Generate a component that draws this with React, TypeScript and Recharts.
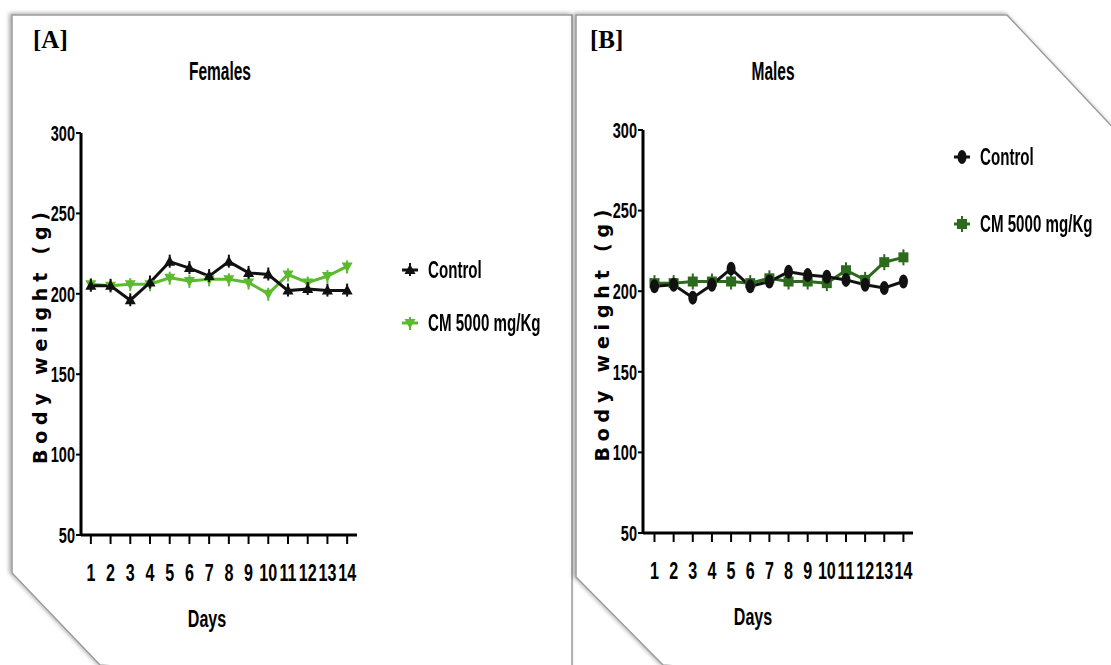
import React from "react";
import { LineChart, Line, XAxis, YAxis, Legend, Label } from "recharts";

// ---- data ----
const days = [1, 2, 3, 4, 5, 6, 7, 8, 9, 10, 11, 12, 13, 14];
const weightTicks = [50, 100, 150, 200, 250, 300];

const femaleControl = [205, 205, 196, 207, 220, 216, 211, 220, 213, 212, 202, 203, 202, 202];
const femaleCM = [206, 205, 206, 206, 210, 208, 209, 209, 207, 200, 212, 207, 211, 217];

const maleControl = [203, 204, 196, 204, 214, 203, 206, 212, 210, 209, 207, 204, 202, 206];
const maleCM = [205, 205, 206, 206, 206, 205, 208, 206, 206, 205, 213, 207, 218, 221];

const seriesNames = ["Control", "CM 5000 mg/Kg"];

const femaleRows = days.map((d, i) => ({ day: d, control: femaleControl[i], cm: femaleCM[i] }));
const maleRows = days.map((d, i) => ({ day: d, control: maleControl[i], cm: maleCM[i] }));

// no condensed face installed, so Liberation Sans bold squeezed horizontally
const SANS = "'Liberation Sans', Arial, sans-serif";
const BLACK = "#111";
const LIGHT_GREEN = "#5cba2e";
const DARK_GREEN = "#2e6a1e";

type MarkerKind = "triUp" | "triDown" | "oval" | "square";

function Marker({ kind, cx, cy, color }: { kind: MarkerKind; cx: number; cy: number; color: string }) {
  if (kind === "triUp") {
    return (
      <g>
        <line x1={cx} x2={cx} y1={cy - 7} y2={cy + 6} stroke={color} strokeWidth={2} />
        <path d={`M${cx},${cy - 6} L${cx + 5.5},${cy + 4} L${cx - 5.5},${cy + 4} Z`} fill={color} />
      </g>
    );
  }
  if (kind === "triDown") {
    return (
      <g>
        <line x1={cx} x2={cx} y1={cy - 6} y2={cy + 7} stroke={color} strokeWidth={2} />
        <path d={`M${cx},${cy + 6} L${cx + 5.5},${cy - 4} L${cx - 5.5},${cy - 4} Z`} fill={color} />
      </g>
    );
  }
  if (kind === "oval") {
    return <ellipse cx={cx} cy={cy} rx={4.5} ry={7} fill={color} />;
  }
  return (
    <g>
      <line x1={cx} x2={cx} y1={cy - 8} y2={cy + 8} stroke={color} strokeWidth={2} />
      <rect x={cx - 5} y={cy - 5} width={10} height={10} fill={color} />
    </g>
  );
}

function makeDot(kind: MarkerKind, color: string) {
  return (p: any) => <Marker key={`d-${p.index}`} kind={kind} cx={p.cx} cy={p.cy} color={color} />;
}

// svg text squeezed horizontally around its anchor
function NarrowText({
  x,
  y,
  size,
  sx,
  anchor = "middle",
  dy = "0.35em",
  children,
}: {
  x: number;
  y: number;
  size: number;
  sx: number;
  anchor?: "start" | "middle" | "end";
  dy?: string;
  children: React.ReactNode;
}) {
  return (
    <text
      transform={`translate(${x},${y}) scale(${sx},1)`}
      textAnchor={anchor}
      dy={dy}
      fontFamily={SANS}
      fontWeight={700}
      fontSize={size}
      fill="#000"
    >
      {children}
    </text>
  );
}

const xTick = (p: any) => (
  <NarrowText key={`x-${p.index}`} x={p.x} y={p.y} size={23} sx={0.7} dy="0.72em">
    {p.payload.value}
  </NarrowText>
);

const yTick = (p: any) => (
  <NarrowText key={`y-${p.index}`} x={p.x} y={p.y} size={22} sx={0.66} anchor="end">
    {p.payload.value}
  </NarrowText>
);

// legend: short line with the marker on it, then the name
function LegendBox({
  items,
  gap,
}: {
  items: { name: string; kind: MarkerKind; color: string }[];
  gap: number;
}) {
  return (
    <div>
      {items.map((it, i) => (
        <div
          key={it.name}
          style={{ display: "flex", alignItems: "center", height: 30, marginBottom: i === 0 ? gap - 30 : 0 }}
        >
          <svg width={22} height={30} style={{ flexShrink: 0 }}>
            <line x1={3} x2={19} y1={15} y2={15} stroke={it.color} strokeWidth={3} />
            <Marker kind={it.kind} cx={11} cy={15} color={it.color} />
          </svg>
          <span
            style={{
              marginLeft: 7,
              fontFamily: SANS,
              fontWeight: 700,
              fontSize: 24,
              color: "#000",
              whiteSpace: "nowrap",
              display: "inline-block",
              flexShrink: 0,
              transform: "scaleX(0.63)",
              transformOrigin: "left center",
            }}
          >
            {it.name}
          </span>
        </div>
      ))}
    </div>
  );
}

function Panel({
  rows,
  left,
  width,
  margin,
  xDomain,
  daysDx,
  kinds,
  colors,
  legendPos,
  legendGap,
}: {
  rows: any[];
  left: number;
  width: number;
  margin: { top: number; right: number; bottom: number; left: number };
  xDomain: [number, number];
  daysDx: number;
  kinds: [MarkerKind, MarkerKind];
  colors: [string, string];
  legendPos: { left: number; top: number };
  legendGap: number;
}) {
  return (
    <div style={{ position: "absolute", left, top: 0, width, height: 665 }}>
      <LineChart width={width} height={665} data={rows} margin={margin}>
        <XAxis
          dataKey="day"
          type="number"
          domain={xDomain}
          ticks={days}
          interval={0}
          height={40}
          axisLine={{ stroke: "#000", strokeWidth: 3 }}
          tickLine={{ stroke: "#000", strokeWidth: 2 }}
          tickSize={9}
          tickMargin={20}
          tick={xTick}
        >
          <Label
            content={(p: any) => {
              const vb = p.viewBox || {};
              return (
                <NarrowText x={vb.x + vb.width / 2 + daysDx} y={vb.y + 84} size={24} sx={0.67}>
                  Days
                </NarrowText>
              );
            }}
          />
        </XAxis>
        <YAxis
          type="number"
          domain={[50, 300]}
          ticks={weightTicks}
          interval={0}
          width={45}
          axisLine={{ stroke: "#000", strokeWidth: 3 }}
          tickLine={{ stroke: "#000", strokeWidth: 2 }}
          tickSize={5}
          tickMargin={1}
          tick={yTick}
        >
          <Label
            content={(p: any) => {
              const vb = p.viewBox || {};
              const cx = vb.x + 4;
              const cy = vb.y + vb.height / 2 + 4;
              return (
                <text
                  x={cx}
                  y={cy}
                  transform={`rotate(-90 ${cx} ${cy})`}
                  textAnchor="middle"
                  dominantBaseline="central"
                  fontFamily="'DejaVu Sans', sans-serif"
                  fontWeight={700}
                  fontSize={19}
                  textLength={252}
                  lengthAdjust="spacing"
                  fill="#000"
                >
                  Body weight (g)
                </text>
              );
            }}
          />
        </YAxis>
        <Legend
          layout="vertical"
          align="center"
          verticalAlign="middle"
          wrapperStyle={{ left: legendPos.left, top: legendPos.top, width: 320 }}
          content={() => (
            <LegendBox
              gap={legendGap}
              items={[
                { name: seriesNames[0], kind: kinds[0], color: colors[0] },
                { name: seriesNames[1], kind: kinds[1], color: colors[1] },
              ]}
            />
          )}
        />
        <Line
          dataKey="cm"
          name={seriesNames[1]}
          stroke={colors[1]}
          strokeWidth={3}
          dot={makeDot(kinds[1], colors[1])}
          activeDot={false}
          isAnimationActive={false}
        />
        <Line
          dataKey="control"
          name={seriesNames[0]}
          stroke={colors[0]}
          strokeWidth={3}
          dot={makeDot(kinds[0], colors[0])}
          activeDot={false}
          isAnimationActive={false}
        />
      </LineChart>
    </div>
  );
}

// the two "paper" cards with cut corners, plus tags and titles
function Frames() {
  return (
    <svg width={1111} height={665} style={{ position: "absolute", left: 0, top: 0 }}>
      <defs>
        <filter id="paperShadow" x="-10%" y="-10%" width="120%" height="120%">
          <feDropShadow dx="-2" dy="-1" stdDeviation="2" floodColor="#000" floodOpacity="0.35" />
        </filter>
      </defs>
      <polygon
        points="12,15 572,15 572,700 100,665 12,573"
        fill="#fff"
        stroke="#9a9a9a"
        strokeWidth={1.5}
        filter="url(#paperShadow)"
      />
      <polygon
        points="576,15 1007,15 1120,135 1120,700 663,665 576,577"
        fill="#fff"
        stroke="#9a9a9a"
        strokeWidth={1.5}
        filter="url(#paperShadow)"
      />
      <text x={33} y={48} fontFamily="'Liberation Serif', serif" fontWeight={700} fontSize={25} fill="#000">
        [A]
      </text>
      <text x={590} y={48} fontFamily="'Liberation Serif', serif" fontWeight={700} fontSize={25} fill="#000">
        [B]
      </text>
      <NarrowText x={220} y={71} size={25} sx={0.62}>
        Females
      </NarrowText>
      <NarrowText x={773} y={71} size={25} sx={0.62}>
        Males
      </NarrowText>
    </svg>
  );
}

export default function App() {
  return (
    <div
      style={{
        position: "absolute",
        left: 0,
        top: 0,
        width: 1111,
        height: 665,
        background: "#fff",
        overflow: "hidden",
      }}
    >
      <Frames />
      <Panel
        rows={femaleRows}
        left={0}
        width={560}
        margin={{ top: 133, right: 203, bottom: 90, left: 36 }}
        xDomain={[0.5, 14.5]}
        daysDx={-12}
        kinds={["triUp", "triDown"]}
        colors={[BLACK, LIGHT_GREEN]}
        legendPos={{ left: 399, top: 255 }}
        legendGap={53}
      />
      <Panel
        rows={maleRows}
        left={560}
        width={551}
        margin={{ top: 130, right: 198, bottom: 92, left: 38 }}
        xDomain={[0.4, 14.5]}
        daysDx={-25}
        kinds={["oval", "square"]}
        colors={[BLACK, DARK_GREEN]}
        legendPos={{ left: 391, top: 142 }}
        legendGap={67}
      />
    </div>
  );
}
